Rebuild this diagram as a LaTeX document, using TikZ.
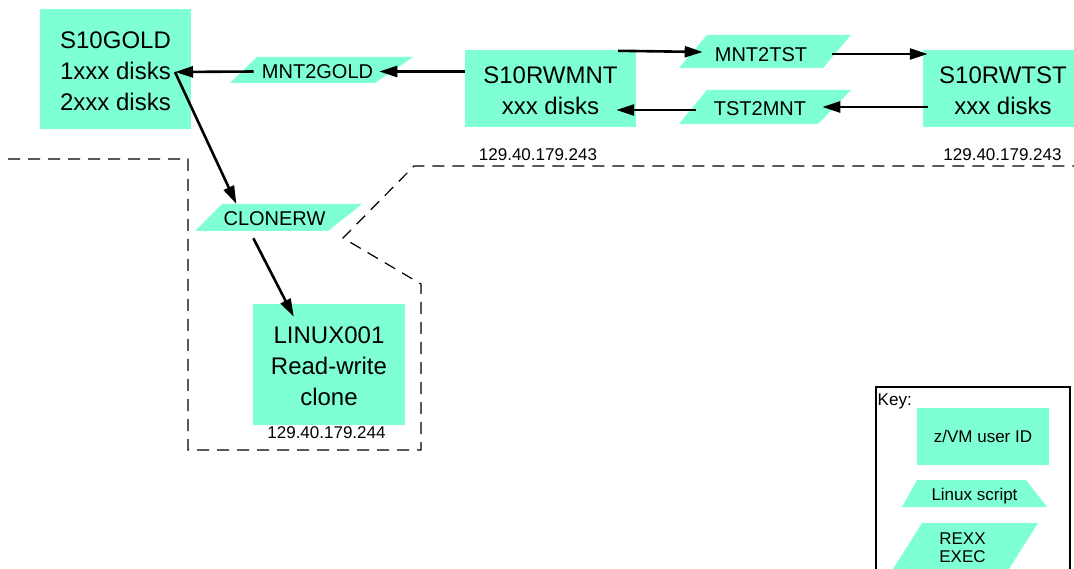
\documentclass[tikz,border=0pt]{standalone}
\usepackage{fontspec}
\setmainfont{Liberation Sans}
\usetikzlibrary{arrows.meta}
\definecolor{idfill}{HTML}{7FFFD4}
\tikzset{
  userid/.style={fill=idfill, inner sep=0pt, align=center,
    font=\fontsize{24}{31}\selectfont},
  scriptshape/.style={fill=idfill},
  scriptlabel/.style={inner sep=0pt, font=\fontsize{20}{24}\selectfont},
  ipaddr/.style={inner sep=0pt, anchor=base, font=\fontsize{17}{20}\selectfont},
  keytext/.style={inner sep=0pt, align=center, font=\fontsize{17}{18}\selectfont},
  flow/.style={line width=2.6pt, -{Triangle[length=18pt,width=11pt]}},
  boundary/.style={line width=1.2pt, dash pattern=on 12pt off 8pt},
  keyframe/.style={line width=1.2pt}
}
\begin{document}
\begin{tikzpicture}[x=1pt, y=-1pt]
\useasboundingbox (0,0) rectangle (1074,569);
\clip (0,0) rectangle (1074,569);

% network boundary
\draw[boundary] (8,159) -- (188,159) -- (188,450) -- (421,450) -- (421,284)
  -- (343,238) -- (414,166) -- (1080,166);

% z/VM user IDs
\node[userid, align=left, text height=83pt, minimum width=151pt, minimum height=120pt] (gold) at (115.5,69)
  {S10GOLD\\1xxx disks\\2xxx disks};
\node[userid, text height=52pt, minimum width=171pt, minimum height=77pt] (rwmnt) at (550.5,88.5)
  {S10RWMNT\\xxx disks};
\node[userid, text height=52pt, minimum width=160pt, minimum height=77pt] (rwtst) at (1003,88.5)
  {S10RWTST\\xxx disks};
\node[userid, text height=83pt, minimum width=152pt, minimum height=121pt] (linux) at (329,364.5)
  {LINUX001\\Read-write\\clone};

% REXX EXECs
\fill[scriptshape] (230,83) -- (257,57) -- (413,57) -- (375,83) -- cycle;
\node[scriptlabel] (mnt2gold) at (317.5,71.5) {MNT2GOLD};
\fill[scriptshape] (679,68) -- (707,35) -- (851,35) -- (823,68) -- cycle;
\node[scriptlabel] (mnt2tst) at (761,55) {MNT2TST};
\fill[scriptshape] (679,124) -- (707,90) -- (851,90) -- (818,124) -- cycle;
\node[scriptlabel] (tst2mnt) at (760,109) {TST2MNT};
\fill[scriptshape] (195,231) -- (222,204) -- (362,204) -- (328,231) -- cycle;
\node[scriptlabel] (clonerw) at (274.5,219) {CLONERW};

% IP addresses
\node[ipaddr] (iprwmnt) at (538,161) {129.40.179.243};
\node[ipaddr] (iprwtst) at (1002.5,161) {129.40.179.243};
\node[ipaddr] (iplinux) at (326.5,438) {129.40.179.244};

% flow between user IDs
\coordinate (goldport) at (175,72);
\draw[flow] (rwmnt.west |- mnt2gold.center) -- ([xshift=6pt]mnt2gold.east);
\draw[flow] ([xshift=-8pt]mnt2gold.west) -- (goldport);
\draw[flow] (goldport) -- ([xshift=13pt,yshift=7.8pt]clonerw.north west);
\draw[flow] ([xshift=30pt,yshift=-12pt]clonerw.south west)
  -- ([xshift=41pt,yshift=-13pt]linux.north west);
\draw[flow] ([xshift=-18pt,yshift=-1pt]rwmnt.north east)
  -- ([xshift=-12pt,yshift=3pt]mnt2tst.west);
\draw[flow] ([xshift=25pt,yshift=1pt]mnt2tst.east)
  -- ([xshift=5pt,yshift=34.5pt]rwtst.west);
\draw[flow] ([xshift=5pt,yshift=-18.5pt]rwtst.west)
  -- ([xshift=16pt,yshift=2pt]tst2mnt.east);
\draw[flow] ([xshift=-18pt,yshift=-1pt]tst2mnt.west)
  -- ([xshift=-20pt,yshift=-21.5pt]rwmnt.east);

% key
\draw[keyframe] (876,387) rectangle (1070,600);
\node[keytext, anchor=base west] (keytitle) at (877.5,405) {Key:};
\node[keytext, fill=idfill, minimum width=132pt, minimum height=57pt] (keyid) at (983,436.5)
  {z/VM user ID};
\fill[scriptshape] (902,507) -- (917,480) -- (1026,480) -- (1047,507) -- cycle;
\node[keytext, anchor=base] (keyscript) at (974.5,500) {Linux script};
\fill[scriptshape] (922,523) -- (1038,523) -- (989.5,600) -- (873.5,600) -- cycle;
\node[keytext] (keyexec) at (962.5,548) {REXX\\EXEC};
\end{tikzpicture}
\end{document}
